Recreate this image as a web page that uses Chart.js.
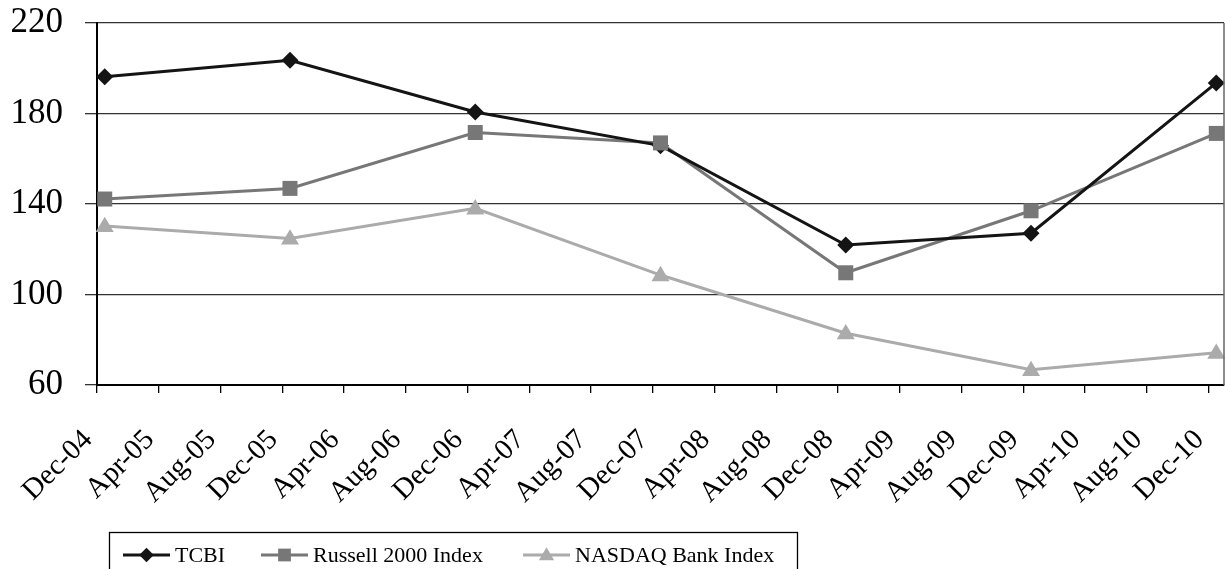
<!DOCTYPE html>
<html>
<head>
<meta charset="utf-8">
<script src="https://cdn.jsdelivr.net/npm/chart.js@4/dist/chart.umd.min.js"></script>
<style>
  html, body { margin: 0; padding: 0; background: #fff; }
  #wrap { width: 1225px; height: 569px; position: relative; }
</style>
</head>
<body>
<div id="wrap"><canvas id="c" width="1225" height="569"></canvas></div>
<script>
// ---- data ----
const categories = ['Dec-04', 'Dec-05', 'Dec-06', 'Dec-07', 'Dec-08', 'Dec-09', 'Dec-10'];
const tickLabels = ['Dec-04', 'Apr-05', 'Aug-05', 'Dec-05', 'Apr-06', 'Aug-06', 'Dec-06', 'Apr-07', 'Aug-07', 'Dec-07',
                    'Apr-08', 'Aug-08', 'Dec-08', 'Apr-09', 'Aug-09', 'Dec-09', 'Apr-10', 'Aug-10', 'Dec-10'];
const tcbi    = [196.2, 203.5, 180.7, 165.8, 121.9, 127.1, 193.5];
const russell = [142.2, 146.9, 171.6, 167.0, 109.6, 137.0, 171.2];
const nasdaq  = [130.3, 124.8, 138.1, 108.6, 82.9, 66.7, 74.3];
const seriesNames = ['TCBI', 'Russell 2000 Index', 'NASDAQ Bank Index'];
const yTicks = [60, 100, 140, 180, 220];

// months since first category (monthly date axis)
const MONTHS = ['Jan','Feb','Mar','Apr','May','Jun','Jul','Aug','Sep','Oct','Nov','Dec'];
function monthNum(lbl) {
  const [m, y] = lbl.split('-');
  return (2000 + parseInt(y, 10)) * 12 + MONTHS.indexOf(m);
}
const base = monthNum(categories[0]);
const monthOffset = lbl => monthNum(lbl) - base;
const toPoints = arr => arr.map((v, i) => ({ x: monthOffset(categories[i]), y: v }));
const lastMonth = monthOffset(categories[categories.length - 1]);

const FONT = "'Liberation Serif', 'Times New Roman', serif";
const styles = [
  { color: '#141414', shape: 'diamond', r: 8.5 },
  { color: '#777777', shape: 'square', r: 7.5 },
  { color: '#ababab', shape: 'triangle', r: 9 }
];
const legendItemX = [123, 261, 523];

function drawShape(ctx, shape, x, y, r, color) {
  ctx.save();
  ctx.fillStyle = color;
  ctx.beginPath();
  if (shape === 'diamond') {
    ctx.moveTo(x, y - r); ctx.lineTo(x + r, y); ctx.lineTo(x, y + r); ctx.lineTo(x - r, y);
  } else if (shape === 'square') {
    ctx.rect(x - r, y - r, 2 * r, 2 * r);
  } else {
    const h = r * 1.7;
    ctx.moveTo(x, y - h * 0.6); ctx.lineTo(x + r, y + h * 0.4); ctx.lineTo(x - r, y + h * 0.4);
  }
  ctx.closePath();
  ctx.fill();
  ctx.restore();
}

const markerPlugin = {
  id: 'markers',
  afterDatasetsDraw(chart) {
    const ctx = chart.ctx;
    chart.data.datasets.forEach((ds, di) => {
      const meta = chart.getDatasetMeta(di);
      const st = styles[di];
      meta.data.forEach(pt => drawShape(ctx, st.shape, pt.x, pt.y, st.r, st.color));
    });
  },
  afterDraw(chart) {
    const ctx = chart.ctx;
    const a = chart.chartArea;
    // right border of plot area
    ctx.save();
    ctx.strokeStyle = '#666';
    ctx.lineWidth = 1.5;
    ctx.beginPath();
    ctx.moveTo(a.right, a.top); ctx.lineTo(a.right, a.bottom);
    ctx.stroke();
    ctx.restore();

    // legend
    const boxL = 109.5, boxT = 532.5, boxR = 797.5;
    ctx.save();
    ctx.strokeStyle = '#000';
    ctx.lineWidth = 1.3;
    ctx.strokeRect(boxL, boxT, boxR - boxL, 60);
    ctx.font = '22px ' + FONT;
    ctx.textBaseline = 'middle';
    ctx.fillStyle = '#000';
    const cy = 555;
    seriesNames.forEach((name, i) => {
      const x = legendItemX[i];
      const st = styles[i];
      ctx.strokeStyle = st.color;
      ctx.lineWidth = 3;
      ctx.beginPath(); ctx.moveTo(x, cy); ctx.lineTo(x + 47, cy); ctx.stroke();
      drawShape(ctx, st.shape, x + 23.5, cy, st.r * 0.85, st.color);
      ctx.fillStyle = '#000';
      ctx.fillText(name, x + 52, cy + 1);
    });
    ctx.restore();
  }
};

new Chart(document.getElementById('c'), {
  type: 'line',
  data: {
    datasets: [tcbi, russell, nasdaq].map((arr, i) => ({
      label: seriesNames[i],
      data: toPoints(arr),
      borderColor: styles[i].color,
      backgroundColor: styles[i].color,
      borderWidth: 3,
      pointRadius: 0,
      tension: 0,
      fill: false
    }))
  },
  options: {
    responsive: false,
    animation: false,
    events: [],
    layout: { padding: { top: 23, right: 1, left: 0, bottom: 0 } },
    plugins: { legend: { display: false }, tooltip: { enabled: false } },
    scales: {
      x: {
        type: 'linear',
        min: -0.5,
        max: lastMonth + 0.5,
        afterBuildTicks: s => { s.ticks = tickLabels.map(l => ({ value: monthOffset(l) - 0.5 })); },
        afterFit: s => { s.height = 184; s.paddingLeft = 0; s.paddingRight = 0; },
        ticks: {
          autoSkip: false, minRotation: 45, maxRotation: 45,
          font: { family: FONT, size: 29 }, color: '#000', padding: 30, labelOffset: -9,
          callback: (v, i) => tickLabels[i]
        },
        grid: { drawOnChartArea: false, drawTicks: true, tickLength: 8, color: '#000', lineWidth: 1.3 },
        border: { color: '#000', width: 2 }
      },
      y: {
        min: 60, max: 220,
        afterBuildTicks: s => { s.ticks = yTicks.map(v => ({ value: v })); },
        afterFit: s => { s.width = 97; s.paddingTop = 0; s.paddingBottom = 0; },
        ticks: { font: { family: FONT, size: 35 }, color: '#000', padding: 22 },
        grid: { color: '#333', lineWidth: 1.3, tickLength: 12 },
        border: { color: '#000', width: 2 }
      }
    }
  },
  plugins: [markerPlugin]
});
</script>
</body>
</html>
